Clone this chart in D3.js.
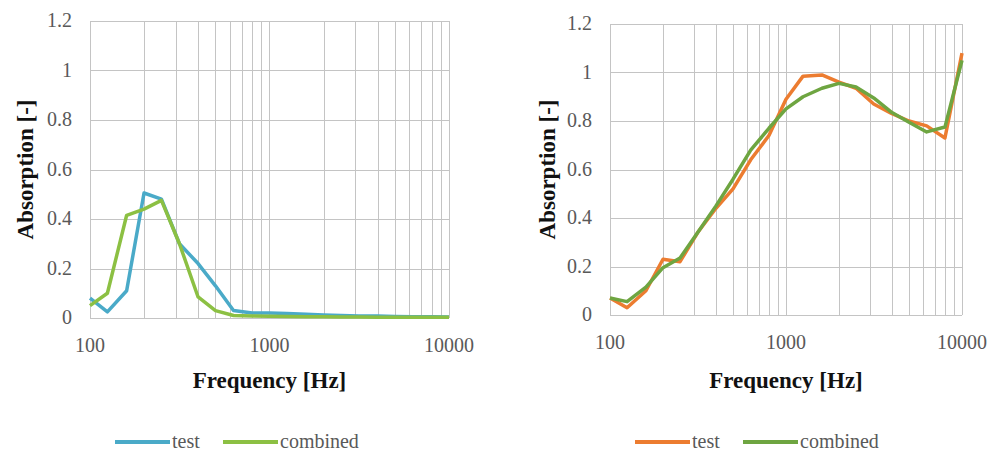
<!DOCTYPE html>
<html lang="en">
<head>
    <meta charset="UTF-8">
    <title>Absorption</title>
    <script src="https://d3js.org/d3.v7.min.js"></script>
    <style>
        body{ margin:0; background:#fff; }
        svg text{ font-family:"Liberation Serif","DejaVu Serif",serif; }
        .grid line{ stroke:#c4c4c4; stroke-width:1; }
        .tick-label{ fill:#595959; font-size:20px; }
        .title{ fill:#111; font-size:23px; font-weight:bold; }
        .legend text{ fill:#595959; font-size:20px; }
    </style>
</head>
<body>
<script>
    // one-third octave band centres
    const freqs = [100,125,160,200,250,315,400,500,630,800,1000,1250,1600,2000,2500,3150,4000,5000,6300,8000,10000];

    // left panel
    const testLeft     = [0.08,0.025,0.11,0.505,0.48,0.30,0.22,0.13,0.03,0.02,0.02,0.018,0.015,0.012,0.01,0.008,0.008,0.006,0.005,0.005,0.004];
    const combinedLeft = [0.05,0.10,0.415,0.44,0.475,0.30,0.085,0.03,0.01,0.008,0.007,0.006,0.005,0.005,0.004,0.004,0.003,0.003,0.003,0.003,0.003];

    // right panel
    const testRight     = [0.07,0.03,0.10,0.23,0.22,0.34,0.44,0.52,0.64,0.74,0.89,0.985,0.99,0.96,0.935,0.87,0.83,0.80,0.78,0.73,1.08];
    const combinedRight = [0.07,0.055,0.115,0.195,0.235,0.34,0.45,0.56,0.68,0.77,0.85,0.90,0.935,0.955,0.94,0.895,0.835,0.795,0.755,0.775,1.05];

    const yTicks = [0,0.2,0.4,0.6,0.8,1,1.2];
    const xLabels = [100,1000,10000];
    const seriesNames = ["test","combined"];

    const width = 990, height = 455;
    const svg = d3.select("body").append("svg")
        .attr("width", width).attr("height", height)
        .attr("font-family", "'Liberation Serif','DejaVu Serif',serif");

    // minor grid frequencies 100..10000
    const gridFreqs = [];
    [100,1000].forEach(d => { for (let k = 1; k < 10; k++) gridFreqs.push(d*k) });
    gridFreqs.push(10000);

    const panels = [
        {x0:90, x1:449, y0:318, y1:21, test:testLeft, comb:combinedLeft,
         colors:["#4aaac8","#8cc043"], legendX:[115,223], labelX:25},
        {x0:610, x1:962, y0:315, y1:24, test:testRight, comb:combinedRight,
         colors:["#ec7c30","#6ea541"], legendX:[635,743], labelX:547}
    ];

    panels.forEach(p => {
        const x = d3.scaleLog().domain([100,10000]).range([p.x0,p.x1]);
        const y = d3.scaleLinear().domain([0,1.2]).range([p.y0,p.y1]);
        const g = svg.append("g");

        const grid = g.append("g").attr("class","grid");
        grid.selectAll(".v").data(gridFreqs).enter().append("line")
            .attr("x1", d=>Math.round(x(d))+0.5).attr("x2", d=>Math.round(x(d))+0.5)
            .attr("y1", p.y1).attr("y2", p.y0);
        grid.selectAll(".h").data(yTicks).enter().append("line")
            .attr("y1", d=>Math.round(y(d))+0.5).attr("y2", d=>Math.round(y(d))+0.5)
            .attr("x1", p.x0).attr("x2", p.x1);

        g.selectAll(".yl").data(yTicks).enter().append("text")
            .attr("class","tick-label")
            .attr("x", p.x0-18).attr("y", d=>y(d)+6)
            .attr("text-anchor","end")
            .text(d=>d);

        g.selectAll(".xl").data(xLabels).enter().append("text")
            .attr("class","tick-label")
            .attr("x", d=>x(d)).attr("y", p.y0+34)
            .attr("text-anchor","middle")
            .text(d=>d);

        g.append("text").attr("class","title")
            .attr("x", (p.x0+p.x1)/2).attr("y", 388)
            .attr("text-anchor","middle")
            .text("Frequency [Hz]");

        g.append("text").attr("class","title")
            .attr("transform", `translate(${p.labelX+8},${(p.y0+p.y1)/2}) rotate(-90)`)
            .attr("text-anchor","middle")
            .text("Absorption [-]");

        const line = d3.line()
            .x((d,i)=>x(freqs[i]))
            .y(d=>y(d));

        [p.test, p.comb].forEach((s,i) => {
            g.append("path")
                .datum(s)
                .attr("fill","none")
                .attr("stroke", p.colors[i])
                .attr("stroke-width", 3.5)
                .attr("stroke-linejoin","round")
                .attr("d", line);
        });

        const leg = g.append("g").attr("class","legend");
        seriesNames.forEach((name,i) => {
            const lx = p.legendX[i];
            leg.append("line")
                .attr("x1", lx).attr("x2", lx+55)
                .attr("y1", 442).attr("y2", 442)
                .attr("stroke", p.colors[i])
                .attr("stroke-width", 4);
            leg.append("text")
                .attr("x", lx+57).attr("y", 448)
                .text(name);
        });
    });
</script>
</body>
</html>
